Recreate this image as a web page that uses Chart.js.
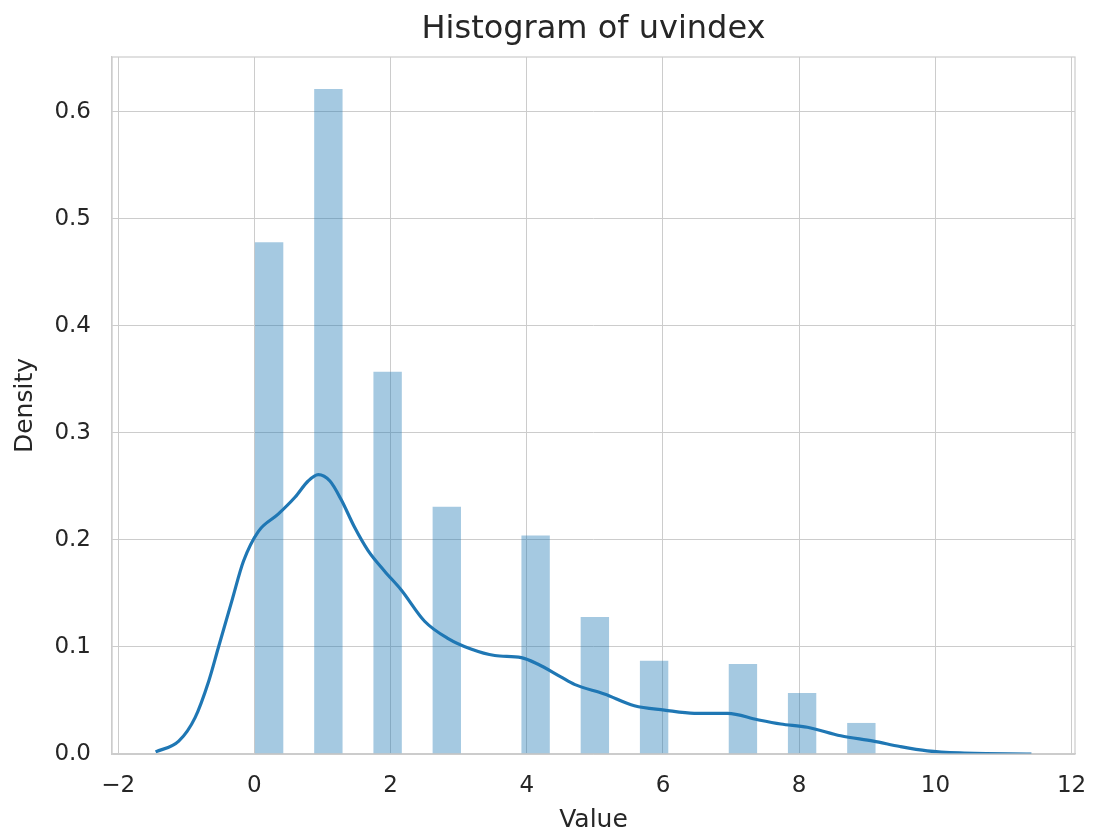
<!DOCTYPE html>
<html>
<head>
<meta charset="utf-8">
<title>Histogram of uvindex</title>
<script src="https://cdn.jsdelivr.net/npm/chart.js@4.4.1/dist/chart.umd.min.js"></script>
<style>
  body { margin: 0; background: #fff; }
  canvas { display: block; }
</style>
</head>
<body>
<canvas id="histChart" width="1095" height="835"></canvas>
<script>
// histogram bins (23 bins over 0..10), centers and densities
const binCenters = [0.217, 0.652, 1.087, 1.522, 1.957, 2.391, 2.826, 3.261, 3.696, 4.130, 4.565, 5.000,
                    5.435, 5.870, 6.304, 6.739, 7.174, 7.609, 8.043, 8.478, 8.913, 9.348, 9.783];
const binDensity = [0.478, 0, 0.621, 0, 0.357, 0, 0.231, 0, 0, 0.204, 0, 0.128,
                    0, 0.087, 0, 0, 0.084, 0, 0.057, 0, 0.029, 0, 0];

// kde curve
const kdeX = [-1.45, -1.11, -0.87, -0.67, -0.53, -0.33, -0.16, 0.06, 0.35, 0.60, 0.79, 0.94, 1.11, 1.28,
              1.47, 1.67, 1.91, 2.16, 2.50, 2.84, 3.18, 3.53, 3.92, 4.16, 4.50, 4.70, 5.14, 5.58,
              6.02, 6.46, 6.95, 7.39, 7.73, 8.12, 8.61, 9.09, 9.48, 9.88, 10.36, 11.41];
const kdeY = [0.002, 0.012, 0.034, 0.068, 0.099, 0.143, 0.180, 0.208, 0.224, 0.240, 0.255, 0.261, 0.255, 0.237,
              0.212, 0.190, 0.171, 0.153, 0.124, 0.108, 0.098, 0.092, 0.090, 0.084, 0.072, 0.065, 0.056, 0.045,
              0.041, 0.038, 0.038, 0.032, 0.028, 0.025, 0.017, 0.012, 0.007, 0.003, 0.001, 0.0];

const xTicks = [-2, 0, 2, 4, 6, 8, 10, 12];
const yTicks = [0.0, 0.1, 0.2, 0.3, 0.4, 0.5, 0.6];
const chartTitle = "Histogram of uvindex";

const textColor = "#262626";
const gridColor = "#cccccc";

// box around the plot area (top and right spines) + title centred over the axes
const framePlugin = {
    id: "frame",
    afterDraw(chart) {
        const a = chart.chartArea;
        const ctx = chart.ctx;
        ctx.save();
        ctx.strokeStyle = gridColor;
        ctx.lineWidth = 1.2;
        ctx.strokeRect(a.left, a.top, a.right - a.left, a.bottom - a.top);

        ctx.fillStyle = textColor;
        ctx.font = "32px 'DejaVu Sans'";
        ctx.textAlign = "center";
        ctx.textBaseline = "middle";
        ctx.fillText(chartTitle, (a.left + a.right) / 2, 29.5);
        ctx.restore();
    }
};

const ctx = document.getElementById("histChart").getContext("2d");
new Chart(ctx, {
    type: "bar",
    data: {
        datasets: [
            {
                type: "line",
                label: "kde",
                data: kdeX.map((x, i) => ({ x: x, y: kdeY[i] })),
                borderColor: "#1f77b4",
                borderWidth: 3.2,
                pointRadius: 0,
                cubicInterpolationMode: "monotone",
                fill: false,
                order: 0
            },
            {
                type: "bar",
                label: "hist",
                data: binCenters.map((x, i) => ({ x: x, y: binDensity[i] })),
                backgroundColor: "rgba(31,119,180,0.4)",
                borderWidth: 0,
                barPercentage: 0.96,
                categoryPercentage: 1.0,
                order: 1
            }
        ]
    },
    options: {
        responsive: false,
        animation: false,
        layout: { padding: { left: 0, right: 20, top: 57, bottom: 0 } },
        plugins: {
            legend: { display: false },
            tooltip: { enabled: false },
            title: { display: false }
        },
        scales: {
            x: {
                type: "linear",
                min: -2.09,
                max: 12.05,
                offset: false,
                grid: { color: gridColor, lineWidth: 1, drawTicks: false, offset: false },
                border: { color: gridColor, width: 1.2 },
                afterBuildTicks: scale => { scale.ticks = xTicks.map(v => ({ value: v })); },
                afterFit: scale => {
                    scale.height = 81;
                    scale.paddingLeft = 0;
                    scale.paddingRight = 0;
                },
                ticks: {
                    color: textColor,
                    padding: 18,
                    maxRotation: 0,
                    font: { family: "DejaVu Sans", size: 23 },
                    callback: v => String(v).replace("-", "\u2212")
                },
                title: {
                    display: true,
                    text: "Value",
                    color: textColor,
                    font: { family: "DejaVu Sans", size: 25 },
                    padding: { top: 0, bottom: 0 }
                }
            },
            y: {
                min: 0,
                max: 0.651,
                grid: { color: gridColor, lineWidth: 1, drawTicks: false },
                border: { color: gridColor, width: 1.2 },
                afterBuildTicks: scale => { scale.ticks = yTicks.map(v => ({ value: v })); },
                afterFit: scale => {
                    scale.width = 112;
                    scale.paddingTop = 0;
                    scale.paddingBottom = 0;
                },
                ticks: {
                    color: textColor,
                    padding: 21,
                    font: { family: "DejaVu Sans", size: 23 },
                    callback: v => Number(v).toFixed(1)
                },
                title: {
                    display: true,
                    text: "Density",
                    color: textColor,
                    font: { family: "DejaVu Sans", size: 25 },
                    padding: { top: 10, bottom: 0 }
                }
            }
        }
    },
    plugins: [framePlugin]
});
</script>
</body>
</html>
